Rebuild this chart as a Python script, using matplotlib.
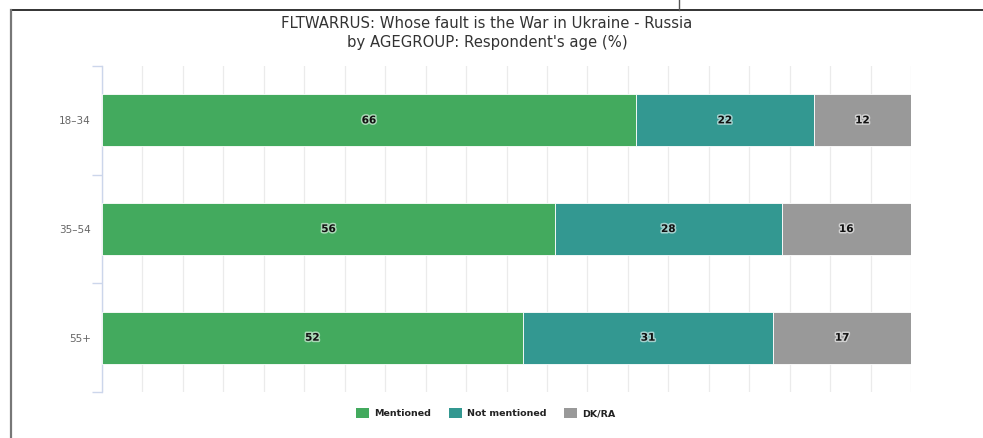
import matplotlib
matplotlib.use("Agg")
import matplotlib.pyplot as plt
import matplotlib.patheffects as pe
from matplotlib.patches import Patch
from matplotlib.lines import Line2D

categories = ["18-34", "35-54", "55+"]
series_names = ["Mentioned", "Not mentioned", "DK/RA"]
mentioned = [66, 56, 52]
not_mentioned = [22, 28, 31]
dk_ra = [12, 16, 17]
colors = ["#43aa5e", "#339891", "#999999"]

title = "FLTWARRUS: Whose fault is the War in Ukraine - Russia\nby AGEGROUP: Respondent's age (%)"

fig = plt.figure(figsize=(9.83, 4.38), dpi=100)
ax = fig.add_axes([102 / 983, 1 - 392 / 438, 809 / 983, 326 / 438])

values = [mentioned, not_mentioned, dk_ra]
ypos = list(range(len(categories)))
left = [0] * len(categories)
for name, vals, col in zip(series_names, values, colors):
    ax.barh(ypos, vals, left=left, height=0.48, color=col,
            edgecolor="white", linewidth=0.6, zorder=3)
    for y, v, l in zip(ypos, vals, left):
        ax.text(l + v / 2, y, f"{v}", ha="center", va="center",
                fontsize=7.5, fontweight="bold", color="#111111", zorder=4,
                path_effects=[pe.withStroke(linewidth=2.2, foreground="white", alpha=0.55)])
    left = [a + b for a, b in zip(left, vals)]

ax.set_xlim(0, 100)
ax.set_ylim(len(categories) - 0.5, -0.5)
ax.set_xticks(range(0, 101, 5))
ax.xaxis.grid(True, color="#ebebeb", linewidth=0.9, zorder=0)
ax.tick_params(axis="x", length=0, labelbottom=False)
ax.set_yticks(ypos)
ax.set_yticklabels([c.replace("-", "–") for c in categories], fontsize=7.5, color="#666666")
ax.tick_params(axis="y", length=0, pad=8)
ax.set_yticks([-0.5, 0.5, 1.5, 2.5], minor=True)
ax.tick_params(axis="y", which="minor", length=7, color="#ccd6eb", width=1)
for s in ["top", "right", "bottom"]:
    ax.spines[s].set_visible(False)
ax.spines["left"].set_color("#ccd6eb")
ax.spines["left"].set_linewidth(1)

fig.text(487 / 983, 1 - 33 / 438, title, ha="center", va="center",
         fontsize=10.7, color="#333333", linespacing=1.35)

handles = [Patch(facecolor=c, edgecolor="none") for c in colors]
leg = fig.legend(handles, series_names, loc="center", bbox_to_anchor=(486 / 983, 1 - 413 / 438),
                 ncol=3, frameon=False, fontsize=6.8, handlelength=1.35, handleheight=1.3,
                 columnspacing=1.9, handletextpad=0.55)
for t in leg.get_texts():
    t.set_fontweight("bold")
    t.set_color("#222222")

# outer frame lines
fig.add_artist(Line2D([11 / 983, 1], [1 - 9.5 / 438, 1 - 9.5 / 438], color="#111111", linewidth=1.2))
fig.add_artist(Line2D([11 / 983, 11 / 983], [0, 1 - 9.5 / 438], color="#777777", linewidth=1.6))
fig.add_artist(Line2D([679 / 983, 679 / 983], [1 - 9.5 / 438, 1], color="#555555", linewidth=1.0))

fig.savefig("out.png", dpi=100)
